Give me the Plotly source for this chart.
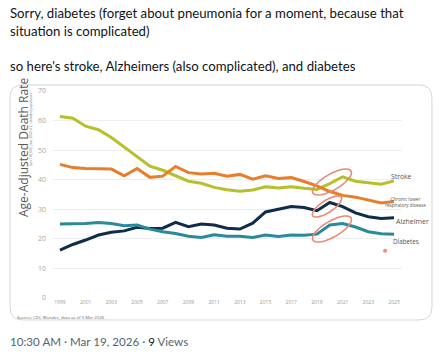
import math
import plotly.graph_objects as go

# ---------------- data ----------------
years = list(range(1999, 2026))
stroke = [61.4, 60.8, 58.1, 56.9, 54.3, 51.1, 47.7, 44.6, 43.2, 41.3, 39.5, 38.8, 37.4, 36.6,
          36.1, 36.5, 37.6, 37.2, 37.6, 37.1, 36.7, 38.7, 41.0, 39.5, 39.1, 38.5, 39.6]
clrd = [45.2, 44.1, 43.8, 43.8, 43.6, 41.3, 43.8, 40.8, 41.2, 44.5, 42.4, 41.9, 42.2, 41.2,
        41.8, 40.2, 41.3, 40.4, 40.7, 39.4, 37.9, 36.0, 34.7, 34.1, 33.2, 32.1, 32.6]
alzheimer = [16.2, 18.1, 19.6, 21.3, 22.2, 22.7, 23.9, 23.5, 23.6, 25.6, 24.1, 25.0, 24.7, 23.6,
             23.3, 25.3, 29.1, 30.1, 30.9, 30.6, 29.5, 32.3, 30.9, 28.8, 27.5, 26.9, 27.1]
diabetes = [25.0, 25.0, 25.2, 25.5, 25.2, 24.4, 24.7, 23.3, 22.4, 21.8, 20.9, 20.5, 21.4, 20.9,
            20.9, 20.5, 21.3, 20.8, 21.3, 21.2, 21.6, 24.7, 25.2, 24.0, 22.4, 21.7, 21.6]
stray_x = [2024.3]
stray_y = [16.0]
tick_years = list(range(1999, 2026, 2))
y_ticks = [0, 10, 20, 30, 40, 50, 60, 70]

# ---------------- layout geometry ----------------
W, H = 440, 355
ML, MR, MT, MB = 52, 38, 91, 57
PW, PH = W - ML - MR, H - MT - MB
X0, X1 = 1998.38, 2025.62
Y0, Y1 = 0, 70


def px_to_data(px, py):
    return (X0 + (px - ML) / PW * (X1 - X0), Y0 + (H - MB - py) / PH * (Y1 - Y0))


def px_to_paper(px, py):
    return ((px - ML) / PW, (H - MB - py) / PH)


FONT = "Open Sans"
fig = go.Figure()

series = [
    ("Stroke", stroke, "#b4c12a"),
    ("Chronic lower respiratory disease", clrd, "#e87d2a"),
    ("Alzheimer", alzheimer, "#0f2d4a"),
    ("Diabetes", diabetes, "#2a8a9b"),
]
for name, vals, col in series:
    fig.add_trace(go.Scatter(x=years, y=vals, mode="lines", name=name,
                             line=dict(color=col, width=3), showlegend=False))

fig.add_trace(go.Scatter(x=stray_x, y=stray_y, mode="markers",
                         marker=dict(color="#e8907a", size=4), showlegend=False))

# ellipses (hand-drawn highlight circles)
ELL = "#e68a76"
for (cx, cy, a, b, phi) in [(332, 182, 22, 8, 30), (327, 206.5, 17, 6, 33), (332, 229, 22, 8, 30)]:
    p = math.radians(phi)
    pts = []
    for i in range(49):
        t = 2 * math.pi * i / 48
        ex = cx + a * math.cos(t) * math.cos(p) + b * math.sin(t) * math.sin(p)
        ey = cy - a * math.cos(t) * math.sin(p) + b * math.sin(t) * math.cos(p)
        pts.append(px_to_data(ex, ey))
    path = "M " + " L ".join(f"{x:.4f},{y:.4f}" for x, y in pts) + " Z"
    fig.add_shape(type="path", path=path, xref="x", yref="y",
                  line=dict(color=ELL, width=1.6))

# card border (rounded rectangle)
L, R, T, B, r = 10, 432, 85, 320, 13
def pp(x, y):
    a, b = px_to_paper(x, y)
    return f"{a:.5f},{b:.5f}"
card = (f"M {pp(L + r, T)} L {pp(R - r, T)} Q {pp(R, T)} {pp(R, T + r)} "
        f"L {pp(R, B - r)} Q {pp(R, B)} {pp(R - r, B)} L {pp(L + r, B)} "
        f"Q {pp(L, B)} {pp(L, B - r)} L {pp(L, T + r)} Q {pp(L, T)} {pp(L + r, T)} Z")
fig.add_shape(type="path", path=card, xref="paper", yref="paper",
              line=dict(color="#cfd9de", width=1), layer="below")

ann = []
def text_px(px, py, txt, size, color, xanchor="left", font=FONT, angle=0):
    x, y = px_to_paper(px, py)
    ann.append(dict(x=x, y=y, xref="paper", yref="paper", text=txt, showarrow=False,
                    xanchor=xanchor, yanchor="middle", textangle=angle, borderpad=0,
                    font=dict(family=font, size=size, color=color)))

# series labels
LBL = "#555555"
text_px(390, 176.5, "Stroke", 6.8, LBL)
text_px(405, 201.5, "Chronic lower<br>respiratory disease", 4.6, LBL, xanchor="center")
text_px(395, 221.5, "Alzheimer", 7, LBL)
text_px(392, 241, "Diabetes", 6.3, LBL)

# axis titles
text_px(23, 148, "Age-Adjusted Death Rate", 12, "#5a5a5a", xanchor="center", angle=-90)
text_px(31, 129, "(per 100,000, year 2000 U.S. standard population)", 3.2, "#777777",
        xanchor="center", angle=-90)
# source
text_px(16, 316.5, "Source: CDC Wonder; data as of 5 Mar 2026", 4.3, "#666666")

# tweet text
TW = "#0f1419"
TF = "Lato"
text_px(9, 13, "Sorry, diabetes (forget about pneumonia for a moment, because that", 13.2, TW, font=TF)
text_px(9, 31, "situation is complicated)", 13.2, TW, font=TF)
text_px(9, 66, "so here's stroke, Alzheimers (also complicated), and diabetes", 13.2, TW, font=TF)
text_px(9, 341, "<span style='color:#536471'>10:30 AM · Mar 19, 2026 · </span>"
        "<span style='color:#0f1419'>9</span><span style='color:#536471'> Views</span>",
        11.6, "#536471", font=TF)

fig.update_layout(
    width=W, height=H,
    margin=dict(l=ML, r=MR, t=MT, b=MB),
    paper_bgcolor="white", plot_bgcolor="white",
    annotations=ann,
    xaxis=dict(range=[X0, X1], tickvals=tick_years, ticktext=[str(y) for y in tick_years],
               showgrid=False, zeroline=False, showline=False, ticks="",
               tickfont=dict(family=FONT, size=5, color="#999999")),
    yaxis=dict(range=[Y0, Y1], tickvals=y_ticks, showgrid=True, gridcolor="#efefef",
               gridwidth=1, zeroline=False, showline=False, ticks="", ticklabelstandoff=5,
               tickfont=dict(family=FONT, size=7, color="#a8a8a8")),
)

fig.write_html("out.html", config={"displayModeBar": False},
               post_script="document.body.style.margin='0';document.body.style.overflow='hidden';")
